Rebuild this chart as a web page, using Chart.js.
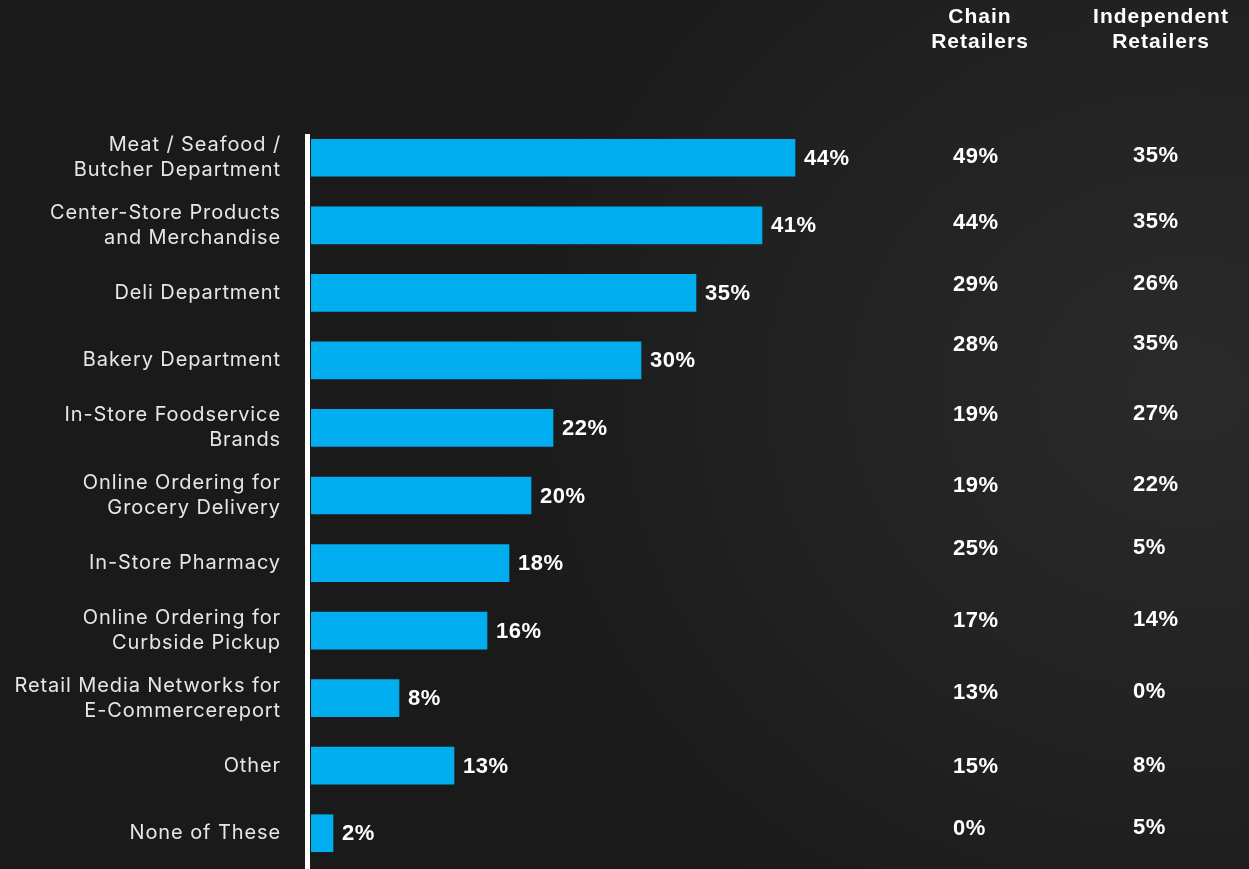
<!DOCTYPE html>
<html>
<head>
<meta charset="utf-8">
<script src="https://cdn.jsdelivr.net/npm/chart.js@4/dist/chart.umd.min.js"></script>
<style>
  html, body { margin: 0; padding: 0; }
  body {
    width: 1249px; height: 869px; overflow: hidden; position: relative;
    background: radial-gradient(ellipse 70% 90% at 95% 45%, #2a2a2a 0%, #222222 45%, #1a1a1a 80%),
                #1a1a1a;
  }
  /* the canvas runs slightly past the bottom edge so the last row sits at the edge */
  #wrap { position: absolute; left: 0; top: 0; width: 1249px; height: 892px; }
</style>
</head>
<body>
<div id="wrap"><canvas id="chart"></canvas></div>
<script>
// Survey categories (multi-line labels as arrays)
const categories = [
  ['Meat / Seafood /', 'Butcher Department'],
  ['Center-Store Products', 'and Merchandise'],
  'Deli Department',
  'Bakery Department',
  ['In-Store Foodservice', 'Brands'],
  ['Online Ordering for', 'Grocery Delivery'],
  'In-Store Pharmacy',
  ['Online Ordering for', 'Curbside Pickup'],
  ['Retail Media Networks for', 'E-Commercereport'],
  'Other',
  'None of These'
];
// Total share of respondents (%)
const totalValues = [44, 41, 35, 30, 22, 20, 18, 16, 8, 13, 2];
// Breakdown columns (%)
const chainValues = [49, 44, 29, 28, 19, 19, 25, 17, 13, 15, 0];
const independentValues = [35, 35, 26, 35, 27, 22, 5, 14, 0, 8, 5];
const columnHeaders = [['Chain', 'Retailers'], ['Independent', 'Retailers']];

// Layout: vertical nudge (px) of the breakdown column text against each bar row
const columnRowNudge = [-1, -2, -8, -15, -13, -10, -14, -10, -5, 1, -4];

const BAR_COLOR = '#00adef';
const LABEL_FONT = 'Inter, "Liberation Sans", Arial, sans-serif';
const BOLD_FONT = '"Liberation Sans", Arial, sans-serif';

// Wider tracking for the category labels
const trackingPlugin = {
  id: 'tracking',
  beforeDraw(chart) { chart.ctx.letterSpacing = '0.9px'; },
  afterDraw(chart) { chart.ctx.letterSpacing = '0px'; }
};

// Value labels at the bar ends, white axis line and the two breakdown columns
const overlayPlugin = {
  id: 'overlay',
  afterDatasetsDraw(chart) {
    const { ctx, chartArea } = chart;
    const yScale = chart.scales.y;
    const meta = chart.getDatasetMeta(0);
    ctx.save();

    // axis line
    ctx.fillStyle = '#ffffff';
    ctx.fillRect(chartArea.left - 6, 134, 5, chart.height - 134);

    // bar value labels
    ctx.letterSpacing = '0.5px';
    ctx.font = 'bold 22px ' + BOLD_FONT;
    ctx.fillStyle = '#ffffff';
    ctx.textAlign = 'left';
    ctx.textBaseline = 'middle';
    meta.data.forEach((bar, i) => {
      ctx.fillText(totalValues[i] + '%', bar.x + 9, bar.y + 1);
    });

    // column headers
    const headerX = [980, 1161];
    ctx.letterSpacing = '1px';
    ctx.font = 'bold 21px ' + BOLD_FONT;
    ctx.textAlign = 'center';
    columnHeaders.forEach((lines, c) => {
      lines.forEach((line, k) => {
        ctx.fillText(line, headerX[c], 17 + k * 25);
      });
    });

    // column values (left aligned)
    ctx.letterSpacing = '0.5px';
    ctx.font = 'bold 22px ' + BOLD_FONT;
    ctx.textAlign = 'left';
    categories.forEach((_, i) => {
      const y = yScale.getPixelForValue(i) + columnRowNudge[i];
      ctx.fillText(chainValues[i] + '%', 953, y);
      ctx.fillText(independentValues[i] + '%', 1133, y - 1);
    });
    ctx.restore();
  }
};

new Chart(document.getElementById('chart'), {
  type: 'bar',
  data: {
    labels: categories,
    datasets: [{
      data: totalValues,
      backgroundColor: BAR_COLOR,
      borderWidth: 0,
      barThickness: 37
    }]
  },
  options: {
    indexAxis: 'y',
    responsive: true,
    maintainAspectRatio: false,
    animation: false,
    layout: { padding: { top: 124, bottom: 0, left: 0, right: 300 } },
    plugins: { legend: { display: false }, tooltip: { enabled: false } },
    scales: {
      x: {
        display: false,
        min: 0,
        max: 58
      },
      y: {
        grid: {
          display: true,
          color: 'rgba(0,0,0,0)',
          drawOnChartArea: false,
          drawTicks: true,
          tickLength: 30
        },
        border: { display: false },
        afterFit(scale) { scale.width = 311; },
        ticks: {
          color: '#e6e6e6',
          padding: 0,
          font: { family: LABEL_FONT, size: 20, lineHeight: 1.25 }
        }
      }
    }
  },
  plugins: [trackingPlugin, overlayPlugin]
});
</script>
</body>
</html>
